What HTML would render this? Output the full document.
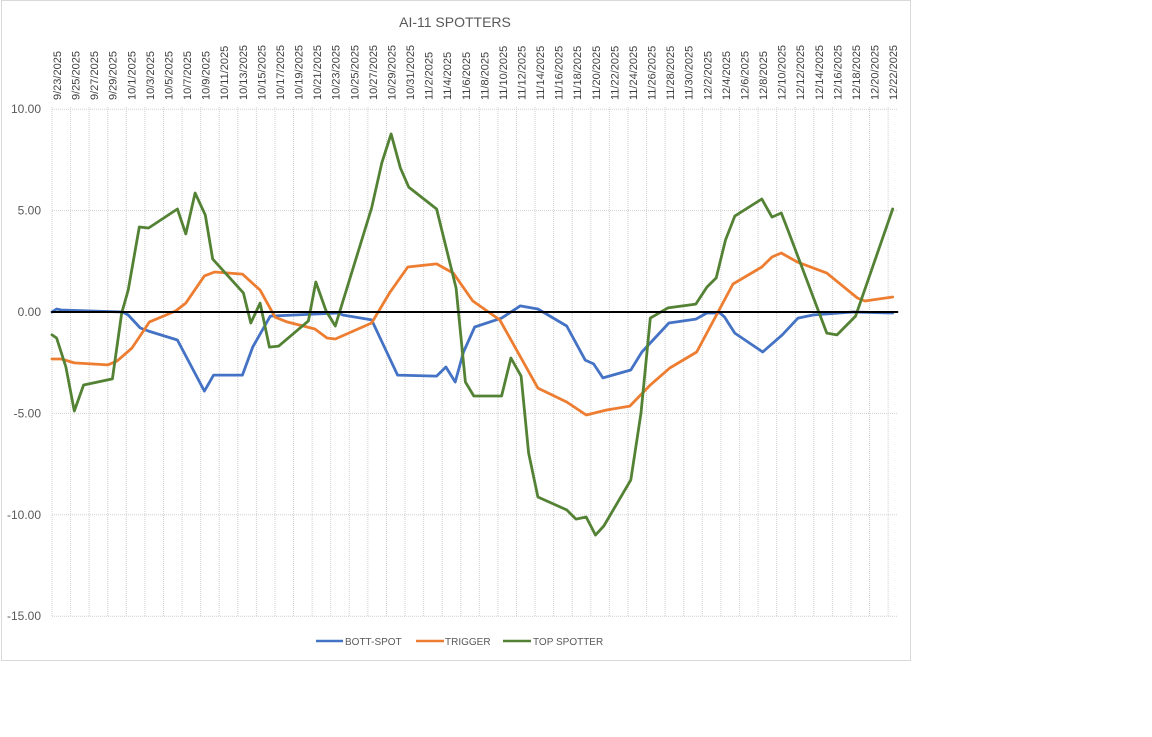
<!DOCTYPE html>
<html><head><meta charset="utf-8"><title>AI-11 SPOTTERS</title>
<style>
html,body{margin:0;padding:0;background:#fff;width:1152px;height:737px;overflow:hidden}
svg{display:block;font-family:"Liberation Sans",sans-serif}
</style></head>
<body>
<svg id="chart" width="1152" height="737" viewBox="0 0 1152 737" xmlns="http://www.w3.org/2000/svg">
<rect x="1.5" y="0.5" width="909" height="660" fill="#fff" stroke="#d9d9d9"/>
<text x="455" y="27" text-anchor="middle" font-size="14" fill="#595959">AI-11 SPOTTERS</text>
<g id="grid"></g>
<g id="xlabels"></g>
<g id="ylabels"></g>
<g id="series"></g>
<g>
 <g><line x1="316" y1="641" x2="343" y2="641" stroke="#4472c4" stroke-width="2.5"/><text x="345" y="645" font-size="10" fill="#595959">BOTT-SPOT</text></g>
 <g><line x1="416" y1="641" x2="444" y2="641" stroke="#ed7d31" stroke-width="2.5"/><text x="445" y="645" font-size="10" fill="#595959">TRIGGER</text></g>
 <g><line x1="503" y1="641" x2="531" y2="641" stroke="#548235" stroke-width="2.5"/><text x="533" y="645" font-size="10" fill="#595959">TOP SPOTTER</text></g>
</g>
</svg>
<script>
// Data: day offsets from 9/23/2025 and values
const yTicks = [10, 5, 0, -5, -10, -15];
const yTickLabels = ["10.00", "5.00", "0.00", "-5.00", "-10.00", "-15.00"];
const startDate = [2025, 8, 23];
const labelCount = 46;
const bottDays = [0,0.5,1,7.6,8.2,9.5,10.4,13.5,16.4,17.4,20.5,21.6,23.5,30.8,31.3,34.4,37.2,41.4,42.4,43.4,44.3,45.5,48.4,50.4,52.3,55.4,57.4,58.3,59.3,62.3,63.5,66.4,69.3,70.5,71.9,72.4,73.5,76.5,78.6,80.3,81.9,86.2,90.5];
const bottVals = [0,0.15,0.1,0,-0.15,-0.79,-0.94,-1.38,-3.9,-3.11,-3.11,-1.73,-0.2,-0.05,-0.15,-0.39,-3.11,-3.16,-2.71,-3.45,-1.97,-0.74,-0.3,0.3,0.15,-0.69,-2.37,-2.56,-3.25,-2.86,-1.97,-0.54,-0.35,-0.05,-0.05,-0.25,-1.04,-1.97,-1.13,-0.3,-0.15,0,-0.05];
const trigDays = [0,1,2.4,6,7,8.6,10.5,13.3,14.4,16.4,17.5,20.5,22.4,24,25.3,28.3,29.6,30.5,34.4,36.4,38.3,41.4,43.2,45.3,48.2,52.3,55.4,57.5,59.7,62.2,64.4,66.5,69.4,73.3,76.4,77.5,78.5,80.2,83.4,86.7,87.5,90.5];
const trigVals = [-2.32,-2.32,-2.51,-2.61,-2.42,-1.78,-0.49,0.05,0.44,1.78,1.97,1.87,1.08,-0.25,-0.49,-0.84,-1.28,-1.33,-0.54,0.99,2.22,2.37,1.92,0.54,-0.39,-3.75,-4.44,-5.08,-4.83,-4.64,-3.6,-2.76,-1.97,1.38,2.22,2.71,2.91,2.47,1.92,0.69,0.54,0.74];
const topDays = [0,0.5,1.5,2.4,3.4,6.5,7.5,8.2,9.4,10.4,13.5,14.4,15.4,16.5,17.3,20.6,21.4,22.4,23.4,24.4,27.6,28.4,29.5,30.5,34.4,35.5,36.5,37.5,38.4,41.4,43.5,44.5,45.4,48.4,49.4,50.5,51.3,52.3,55.4,56.4,57.5,58.5,59.4,62.3,63.4,64.4,66.3,69.3,70.5,71.5,72.5,73.5,76.4,77.5,78.5,79.3,83.4,84.5,86.5,90.5];
const topVals = [-1.13,-1.28,-2.71,-4.88,-3.6,-3.3,-0.05,1.08,4.19,4.14,5.08,3.85,5.87,4.78,2.61,0.94,-0.54,0.44,-1.73,-1.68,-0.44,1.48,0.05,-0.69,5.13,7.35,8.78,7.1,6.16,5.08,1.18,-3.45,-4.14,-4.14,-2.27,-3.16,-6.95,-9.12,-9.76,-10.21,-10.11,-11,-10.55,-8.28,-4.98,-0.3,0.2,0.39,1.23,1.68,3.55,4.73,5.57,4.68,4.88,3.94,-1.04,-1.13,-0.2,5.08];
const zeroDays = [0, 91];
const zeroVals = [0, 0];

const NS = "http://www.w3.org/2000/svg";
const X0 = 52, PXDAY = 9.29, Y0 = 312, PXUNIT = 20.28;
function xScale(d){ return X0 + d * PXDAY; }
function yScale(v){ return Y0 - v * PXUNIT; }
function mk(tag, attrs, parent){ const e = document.createElementNS(NS, tag); for (const k in attrs) e.setAttribute(k, attrs[k]); parent.appendChild(e); return e; }

const grid = document.getElementById('grid');
const xl = document.getElementById('xlabels');
const yl = document.getElementById('ylabels');
const ser = document.getElementById('series');

yTicks.forEach((t, i) => {
  const y = yScale(t);
  const g = mk('line', {x1: X0, x2: 897, y1: y, y2: y, stroke: '#d0d0d0', 'stroke-width': 1, 'stroke-dasharray': '1 1'}, grid);
  
  
  const tx = mk('text', {x: 41, y: y + 4, 'text-anchor': 'end', 'font-size': 12, fill: '#595959'}, yl);
  tx.textContent = yTickLabels[i];
  
  
});

for (let k = 0; k < labelCount; k++) {
  const d = k * 2;
  const x = xScale(d);
  const g = mk('line', {x1: x, x2: x, y1: 107, y2: yScale(-15), stroke: '#d0d0d0', 'stroke-width': 1, 'stroke-dasharray': '1 1'}, grid);
  
  
  const dt = new Date(startDate[0], startDate[1], startDate[2] + d);
  const label = (dt.getMonth() + 1) + '/' + dt.getDate() + '/' + dt.getFullYear();
  const tx = mk('text', {x: 0, y: 0, 'font-size': 11, fill: '#404040', transform: 'translate(' + (x + 9) + ',100) rotate(-90)'}, xl);
  tx.textContent = label;
  
  
}

function drawLine(days, vals, color, width, name){
  const pts = days.map((d, i) => xScale(d).toFixed(1) + ',' + yScale(vals[i]).toFixed(1)).join(' ');
  const p = mk('polyline', {points: pts, fill: 'none', stroke: color, 'stroke-width': width, 'stroke-linejoin': 'round', 'stroke-linecap': 'round'}, ser);
  
  
}
drawLine(bottDays, bottVals, '#4472c4', 2.8, 'bott-spot-line');
drawLine(trigDays, trigVals, '#ed7d31', 2.8, 'trigger-line');
drawLine(topDays, topVals, '#548235', 2.8, 'top-spotter-line');
drawLine(zeroDays, zeroVals, '#000000', 2, 'zero-line');
</script>
</body></html>
